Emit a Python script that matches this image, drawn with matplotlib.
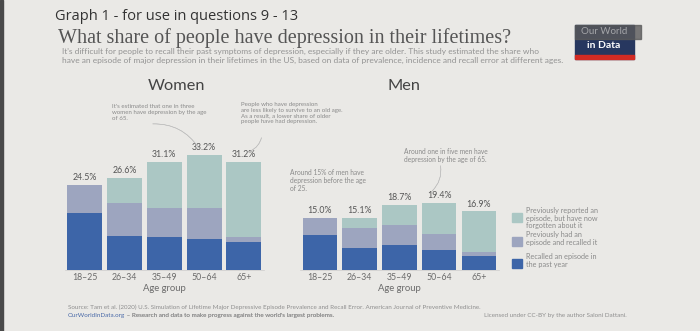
import numpy as np
import matplotlib.pyplot as plt
from matplotlib.patches import Rectangle

# data (percent of people)
age_groups = ["18–25", "26–34", "35–49", "50–64", "65+"]
women_total = [24.5, 26.6, 31.1, 33.2, 31.2]
women_past_year = [16.3, 9.7, 9.5, 8.9, 8.1]
women_recalled = [8.2, 9.5, 8.5, 9.1, 1.4]
women_forgotten = [0.0, 7.4, 13.1, 15.2, 21.7]

men_total = [15.0, 15.1, 18.7, 19.4, 16.9]
men_past_year = [10.1, 6.2, 7.3, 5.9, 3.9]
men_recalled = [4.9, 6.0, 5.6, 4.5, 1.2]
men_forgotten = [0.0, 2.9, 5.8, 9.0, 11.8]

legend_labels = ["Previously reported an\nepisode, but have now\nforgotten about it",
                 "Previously had an\nepisode and recalled it",
                 "Recalled an episode in\nthe past year"]

c_dark = "#3d65a8"
c_mid = "#9da5bf"
c_light = "#abc7c4"
bg = "#eae9e6"
grey = "#6b6b6b"

W, H = 700, 331
fig = plt.figure(figsize=(7, 3.31), dpi=100, facecolor=bg)

def fx(x):
    return x / W

def fy(y):
    return 1 - y / H

plt.rcParams['font.family'] = ['Lato', 'DejaVu Sans']

# dark edge of the monitor on the left
fig.patches.append(Rectangle((0, 0), fx(3), 1, transform=fig.transFigure, color="#4a4a4a", zorder=0))

fig.text(fx(55), fy(20), "Graph 1 - for use in questions 9 - 13", fontsize=10.5, color="#333333",
         family=['Open Sans', 'DejaVu Sans'])
fig.text(fx(58), fy(43), "What share of people have depression in their lifetimes?", fontsize=14.5,
         color="#555555", family=['Liberation Serif'])
fig.text(fx(62), fy(54), "It's difficult for people to recall their past symptoms of depression, especially if they are older. "
         "This study estimated the share who", fontsize=6.0, color="#939393")
fig.text(fx(62), fy(63), "have an episode of major depression in their lifetimes in the US, based on data of prevalence, "
         "incidence and recall error at different ages.", fontsize=6.0, color="#939393")

# logo
fig.patches.append(Rectangle((fx(575), fy(59)), fx(59), 34 / H, transform=fig.transFigure, color="#27375f"))
fig.patches.append(Rectangle((fx(575), fy(59)), fx(59), 4 / H, transform=fig.transFigure, color="#d22b24"))
fig.patches.append(Rectangle((fx(575), fy(39)), fx(66), 14 / H, transform=fig.transFigure, color="#5a5a5a", alpha=0.8))
fig.text(fx(604), fy(32), "Our World", fontsize=7, color="#dddddd", ha="center", va="center", alpha=0.6)
fig.text(fx(604), fy(46), "in Data", fontsize=7.5, color="white", ha="center", va="center", weight="bold")

fig.text(fx(177), fy(86), "Women", fontsize=11.8, color="#444444", ha="center", va="center")
fig.text(fx(404), fy(86), "Men", fontsize=11.8, color="#444444", ha="center", va="center")


def draw_panel(left_px, bar_w, total, past, recalled, forgotten):
    ax = fig.add_axes([fx(left_px), fy(270), 198.75 / W, 121.5 / H])
    ax.set_facecolor("none")
    x = np.arange(len(age_groups))
    past = np.array(past)
    recalled = np.array(recalled)
    forgotten = np.array(forgotten)
    ax.bar(x, past, width=bar_w, color=c_dark)
    ax.bar(x, recalled, width=bar_w, bottom=past, color=c_mid)
    ax.bar(x, forgotten, width=bar_w, bottom=past + recalled, color=c_light)
    for xi, t in zip(x, total):
        ax.text(xi, t + 0.8, f"{t}%", ha="center", va="bottom", fontsize=6.3, color="#555555")
    ax.set_xlim(-0.5, 4.5)
    ax.set_ylim(0, 35)
    ax.set_yticks([])
    ax.set_xticks(x)
    ax.set_xticklabels(age_groups, fontsize=6.3, color=grey)
    ax.tick_params(axis="x", length=0, pad=2)
    for s in ["top", "left", "right"]:
        ax.spines[s].set_visible(False)
    ax.spines["bottom"].set_color("#cccccc")
    ax.spines["bottom"].set_linewidth(0.5)
    ax.text(2, -3.9, "Age group", ha="center", va="top", fontsize=6.8, color=grey)
    return ax


ax_w = draw_panel(65, 0.88, women_total, women_past_year, women_recalled, women_forgotten)
ax_m = draw_panel(300, 0.87, men_total, men_past_year, men_recalled, men_forgotten)

note_w = dict(fontsize=4.4, color="#8a8a8a", linespacing=1.2, va="top")
note_m = dict(fontsize=4.8, color="#8a8a8a", linespacing=1.15, va="top")
fig.text(fx(112), fy(104), "It's estimated that one in three\nwomen have depression by the age\nof 65.", **note_w)
fig.text(fx(241), fy(102), "People who have depression\nare less likely to survive to an old age.\n"
         "As a result, a lower share of older\npeople have had depression.", **note_w)
fig.text(fx(290), fy(169), "Around 15% of men have\ndepression before the age\nof 25.", **note_m)
fig.text(fx(404), fy(148), "Around one in five men have\ndepression by the age of 65.", **note_m)

# faint pointer lines
line_kw = dict(arrowprops=dict(arrowstyle="-", color="#bbbbbb", lw=0.4, connectionstyle="arc3,rad=-0.3"))
fig.add_artist(plt.annotate("", xy=(fx(200), fy(150)), xytext=(fx(150), fy(124)), xycoords="figure fraction",
                            textcoords="figure fraction", **line_kw))
fig.add_artist(plt.annotate("", xy=(fx(248), fy(152)), xytext=(fx(262), fy(135)), xycoords="figure fraction",
                            textcoords="figure fraction", **line_kw))
fig.add_artist(plt.annotate("", xy=(fx(430), fy(193)), xytext=(fx(440), fy(163)), xycoords="figure fraction",
                            textcoords="figure fraction", **line_kw))

# legend
legend_colors = [c_light, c_mid, c_dark]
legend_y = [213, 237, 259]
for lab, col, y in zip(legend_labels, legend_colors, legend_y):
    fig.patches.append(Rectangle((fx(512), fy(y + 9)), fx(10), 9 / H, transform=fig.transFigure, color=col))
    fig.text(fx(526), fy(y - 6), lab, fontsize=5.2, color="#8a8a8a", va="top", linespacing=1.1)

# footer
fig.text(fx(68), fy(307), "Source: Tam et al. (2020) U.S. Simulation of Lifetime Major Depressive Episode Prevalence "
         "and Recall Error. American Journal of Preventive Medicine.", fontsize=4.5, color="#8f8f8f", va="center")
owid = fig.text(fx(68), fy(315), "OurWorldInData.org", fontsize=4.5, color="#4a6aa8", va="center")
fig.add_artist(plt.annotate(" – Research and data to make progress against the world's largest problems.",
                            xy=(1, 0.5), xycoords=owid, va="center", fontsize=4.5, color="#8f8f8f"))
fig.text(fx(484), fy(315), "Licensed under CC-BY by the author Saloni Dattani.", fontsize=4.5, color="#8f8f8f",
         va="center")

fig.savefig("out.png", dpi=100, facecolor=bg)
